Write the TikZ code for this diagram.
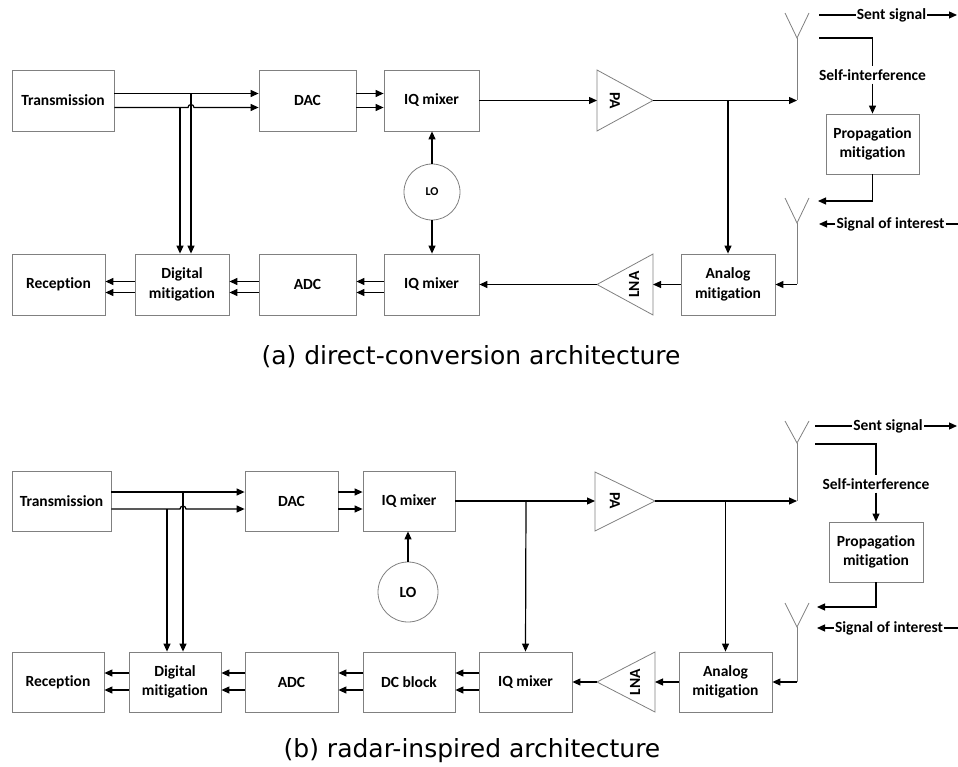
\documentclass[tikz,border=0pt]{standalone}
\usepackage{fontspec}
\setmainfont{Carlito}[Ligatures=NoCommon]
\newfontfamily\capfont{DejaVu Sans}
\usetikzlibrary{arrows.meta,calc}
\definecolor{boxgray}{RGB}{128,128,128}

\tikzset{
  blk/.style={draw=boxgray, line width=0.8pt, align=center, inner sep=0pt,
              font=\bfseries\fontsize{15.5}{19.5}\selectfont},
  arr/.style={-{Triangle[length=8pt,width=7pt]}, line width=1.2pt},
  wire/.style={line width=1.2pt},
  amp/.style={draw=boxgray, line width=0.8pt},
  ant/.style={draw=boxgray, line width=0.8pt},
  lbl/.style={font=\bfseries\fontsize{15.5}{17}\selectfont, inner xsep=1pt, inner ysep=3pt},
  osc/.style={draw=boxgray, line width=0.8pt, circle, inner sep=0pt},
  captext/.style={font=\capfont\fontsize{25}{29}\selectfont},
}

\begin{document}
\begin{tikzpicture}[x=1pt,y=-1pt]
\useasboundingbox (0,0) rectangle (958,767);

% ---------------- (a) direct-conversion ----------------
\node[blk, minimum width=102pt, minimum height=61pt] (tx1)  at (63,100.5)   {Transmission};
\node[blk, minimum width=97pt,  minimum height=61pt] (dac1) at (307.5,100.5) {DAC};
\node[blk, minimum width=95pt,  minimum height=61pt] (iq1)  at (431.5,100.5) {IQ mixer};
\node[blk, minimum width=93pt,  minimum height=61pt] (rx1)  at (58.5,284.5) {Reception};
\node[blk, minimum width=94pt,  minimum height=61pt] (dm1)  at (182,284.5)  {Digital\\mitigation};
\node[blk, minimum width=97pt,  minimum height=61pt] (adc1) at (307.5,284.5) {ADC};
\node[blk, minimum width=95pt,  minimum height=61pt] (iq2)  at (431.5,284.5) {IQ mixer};
\node[blk, minimum width=94pt,  minimum height=61pt] (am1)  at (728,284.5)  {Analog\\mitigation};
\node[blk, minimum width=93pt,  minimum height=60pt] (pm1)  at (872.5,144)  {Propagation\\mitigation};
\node[osc, minimum size=56pt, font=\bfseries\fontsize{12}{14}\selectfont] (lo1) at (432,192) {LO};

% amplifiers
\coordinate (pa1in)  at (597,100.5);
\coordinate (pa1out) at (653,100.5);
\draw[amp] (597,70) -- (pa1out) -- (597,131) -- cycle;
\node[rotate=-90, font=\bfseries\fontsize{15.5}{17}\selectfont] (pa1) at (615,100.5) {PA};
\coordinate (lna1in)  at (653,284.5);
\coordinate (lna1out) at (597,284.5);
\draw[amp] (653,254) -- (lna1out) -- (653,315) -- cycle;
\node[rotate=90, font=\bfseries\fontsize{15.5}{17}\selectfont] (lna1) at (634,284.5) {LNA};

% antennas
\coordinate (a1) at (797,38);
\draw[ant] (785,13) -- (a1) -- (809,13);
\coordinate (a2) at (797,223);
\draw[ant] (785,198) -- (a2) -- (809,198);

% transmit path
\coordinate (hop1) at (188,107.5);
\draw[arr] ([yshift=7pt]tx1.east) -- ([yshift=7pt]dac1.west);
\draw[arr] ([yshift=-7pt]tx1.east) -- (hop1) arc[start angle=180, end angle=0, radius=3pt] -- ([yshift=-7pt]dac1.west);
\coordinate (v1a) at (180,107.5);
\coordinate (v1b) at (191,93.5);
\draw[arr] (v1a) -- (v1a |- dm1.north);
\draw[arr] (v1b) -- (v1b |- dm1.north);
\draw[arr] ([yshift=7pt]dac1.east) -- ([yshift=7pt]iq1.west);
\draw[arr] ([yshift=-7pt]dac1.east) -- ([yshift=-7pt]iq1.west);
\draw[arr] (iq1.east) -- (pa1in);
\draw[arr] (lo1.north) -- (lo1.north |- iq1.south);
\draw[arr] (lo1.south) -- (lo1.south |- iq2.north);
\draw[arr] (pa1out) -- (a1 |- pa1out);
\draw[ant] (a1) -- (a1 |- pa1out);
\coordinate (j1) at (728,100.5);
\draw[arr] (j1) -- (am1.north);

% air interface
\node[lbl] (ss1) at (891.5,15) {Sent signal};
\coordinate (ss1a) at (819,15);
\coordinate (ss1b) at (957,15);
\draw[wire] (ss1a) -- (ss1.west);
\draw[arr] (ss1.east) -- (ss1b);
\node[lbl] (si1) at (872.5,75) {Self-interference};
\coordinate (si1a) at (819,38);
\draw[wire] (si1a) -| (si1.north);
\draw[arr] (si1.south) -- (pm1.north);
\coordinate (r1) at (818,201);
\draw[arr] (pm1.south) |- (r1);
\node[lbl] (soi1) at (890.5,224) {Signal of interest};
\coordinate (soi1a) at (819,224);
\coordinate (soi1b) at (958,224);
\draw[arr] (soi1.west) -- (soi1a);
\draw[wire] (soi1.east) -- (soi1b);

% receive path
\draw[ant] (a2) -- (a2 |- am1.east);
\draw[arr] (a2 |- am1.east) -- (am1.east);
\draw[arr] (am1.west) -- (lna1in);
\draw[arr] (lna1out) -- (iq2.east);
\draw[arr] ([yshift=3pt]iq2.west) -- ([yshift=3pt]adc1.east);
\draw[arr] ([yshift=-8pt]iq2.west) -- ([yshift=-8pt]adc1.east);
\draw[arr] ([yshift=3pt]adc1.west) -- ([yshift=3pt]dm1.east);
\draw[arr] ([yshift=-8pt]adc1.west) -- ([yshift=-8pt]dm1.east);
\draw[arr] ([yshift=3pt]dm1.west) -- ([yshift=3pt]rx1.east);
\draw[arr] ([yshift=-8pt]dm1.west) -- ([yshift=-8pt]rx1.east);

\node[captext] (capa) at (471,357) {(a) direct-conversion architecture};

% ---------------- (b) radar-inspired ----------------
\node[blk, minimum width=99pt, minimum height=60pt] (tx2)  at (61.5,501)  {Transmission};
\node[blk, minimum width=93pt, minimum height=60pt] (dac2) at (291.5,501) {DAC};
\node[blk, minimum width=92pt, minimum height=60pt] (iq3)  at (409,501)   {IQ mixer};
\node[blk, minimum width=92pt, minimum height=60pt] (rx2)  at (58,682)    {Reception};
\node[blk, minimum width=92pt, minimum height=60pt] (dm2)  at (175,682)   {Digital\\mitigation};
\node[blk, minimum width=93pt, minimum height=60pt] (adc2) at (291.5,682) {ADC};
\node[blk, minimum width=92pt, minimum height=60pt] (dc2)  at (409,682)   {DC block};
\node[blk, minimum width=93pt, minimum height=60pt] (iq4)  at (525.5,682) {IQ mixer};
\node[blk, minimum width=93pt, minimum height=60pt] (am2)  at (725.5,682) {Analog\\mitigation};
\node[blk, minimum width=94pt, minimum height=60pt] (pm2)  at (876,552)   {Propagation\\mitigation};
\node[osc, minimum size=60pt, font=\bfseries\fontsize{15.5}{17}\selectfont] (lo2) at (408,592) {LO};

\coordinate (pa2in)  at (595,501);
\coordinate (pa2out) at (655,501);
\draw[amp] (595,472) -- (pa2out) -- (595,531) -- cycle;
\node[rotate=-90, font=\bfseries\fontsize{15.5}{17}\selectfont] (pa2) at (615,501) {PA};
\coordinate (lna2in)  at (655,682);
\coordinate (lna2out) at (597,682);
\draw[amp] (655,652) -- (lna2out) -- (655,712) -- cycle;
\node[rotate=90, font=\bfseries\fontsize{15.5}{17}\selectfont] (lna2) at (635,682) {LNA};

\coordinate (a3) at (797,443);
\draw[ant] (785,421) -- (a3) -- (809,421);
\coordinate (a4) at (797,627);
\draw[ant] (785,603) -- (a4) -- (809,603);

\coordinate (hop2) at (180,509);
\draw[arr] ([yshift=9pt]tx2.east) -- ([yshift=9pt]dac2.west);
\draw[arr] ([yshift=-8pt]tx2.east) -- (hop2) arc[start angle=180, end angle=0, radius=3pt] -- ([yshift=-8pt]dac2.west);
\coordinate (v2a) at (167,509);
\coordinate (v2b) at (183,492);
\draw[arr] (v2a) -- (v2a |- dm2.north);
\draw[arr] (v2b) -- (v2b |- dm2.north);
\draw[arr] ([yshift=9pt]dac2.east) -- ([yshift=9pt]iq3.west);
\draw[arr] ([yshift=-8pt]dac2.east) -- ([yshift=-8pt]iq3.west);
\draw[arr] (iq3.east) -- (pa2in);
\coordinate (j2) at (526,501);
\draw[arr] (j2) -- (iq4.north);
\draw[arr] (lo2.north) -- (lo2.north |- iq3.south);
\draw[arr] (pa2out) -- (a3 |- pa2out);
\draw[ant] (a3) -- (a3 |- pa2out);
\coordinate (j3) at (725.5,501);
\draw[arr] (j3) -- (am2.north);

\node[lbl] (ss2) at (888,426) {Sent signal};
\coordinate (ss2a) at (815,426);
\coordinate (ss2b) at (957,426);
\draw[wire] (ss2a) -- (ss2.west);
\draw[arr] (ss2.east) -- (ss2b);
\node[lbl] (si2) at (876,484) {Self-interference};
\coordinate (si2a) at (815,444);
\draw[wire] (si2a) -| (si2.north);
\draw[arr] (si2.south) -- (pm2.north);
\coordinate (r2) at (817,607);
\draw[arr] (pm2.south) |- (r2);
\node[lbl] (soi2) at (889,628) {Signal of interest};
\coordinate (soi2a) at (817,628);
\coordinate (soi2b) at (958,628);
\draw[arr] (soi2.west) -- (soi2a);
\draw[wire] (soi2.east) -- (soi2b);

\draw[ant] (a4) -- (a4 |- am2.east);
\draw[arr] (a4 |- am2.east) -- (am2.east);
\draw[arr] (am2.west) -- (lna2in);
\draw[arr] (lna2out) -- (iq4.east);
\draw[arr] ([yshift=9pt]iq4.west) -- ([yshift=9pt]dc2.east);
\draw[arr] ([yshift=-8pt]iq4.west) -- ([yshift=-8pt]dc2.east);
\draw[arr] ([yshift=9pt]dc2.west) -- ([yshift=9pt]adc2.east);
\draw[arr] ([yshift=-8pt]dc2.west) -- ([yshift=-8pt]adc2.east);
\draw[arr] ([yshift=9pt]adc2.west) -- ([yshift=9pt]dm2.east);
\draw[arr] ([yshift=-8pt]adc2.west) -- ([yshift=-8pt]dm2.east);
\draw[arr] ([yshift=9pt]dm2.west) -- ([yshift=9pt]rx2.east);
\draw[arr] ([yshift=-8pt]dm2.west) -- ([yshift=-8pt]rx2.east);

\node[captext] (capb) at (472,751) {(b) radar-inspired architecture};
\end{tikzpicture}
\end{document}
